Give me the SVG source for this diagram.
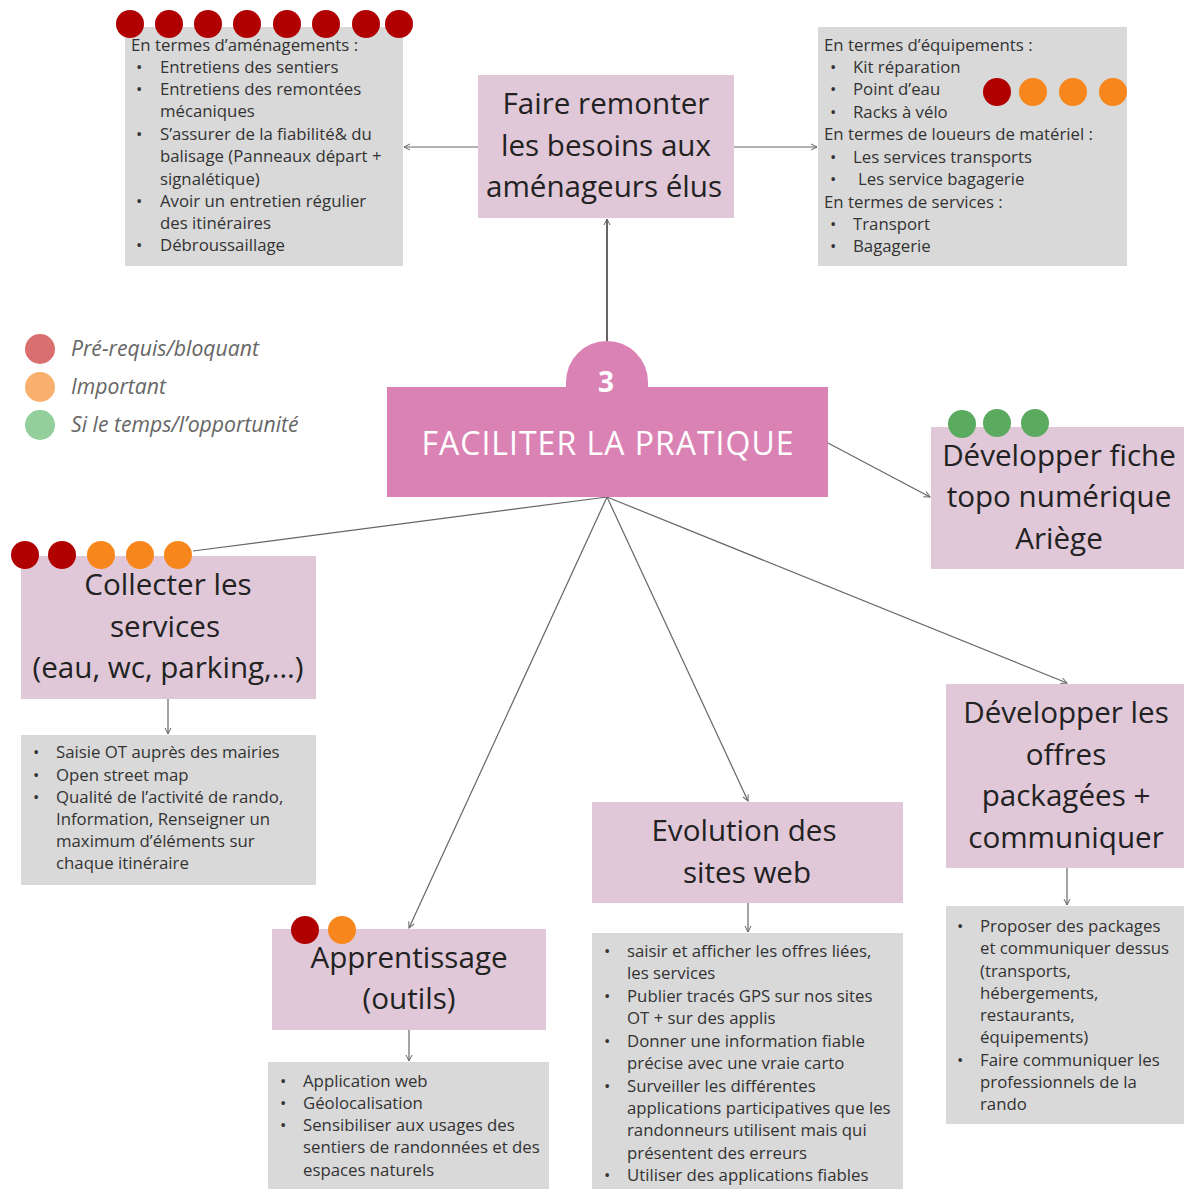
<svg xmlns="http://www.w3.org/2000/svg" width="1184" height="1189" viewBox="0 0 1184 1189">
<defs>
<marker id="ah" markerWidth="8" markerHeight="8" refX="7" refY="4" orient="auto" markerUnits="userSpaceOnUse">
<path d="M1,1 L7,4 L1,7" fill="none" stroke="#666" stroke-width="1"/>
</marker>
<style>
.gray{fill:#d9d9d9}
.pink{fill:#e0c8d8}
.t{font-family:"Open Sans","Liberation Sans",sans-serif;fill:#333}
.big{font-size:29.6px;text-anchor:middle;fill:#222}
.sm{font-size:16.8px}
.leg{font-family:"Open Sans","Liberation Sans",sans-serif;font-size:21.2px;font-style:italic;fill:#666}
.con{stroke:#666;stroke-width:1.2;fill:none}
.conb{stroke:#333;stroke-width:1.5;fill:none}
.dr{fill:#b00000}
.or{fill:#f7861c}
.gr{fill:#5aab5f}
</style>
</defs>
<rect width="1184" height="1189" fill="#ffffff"/>

<g id="connectors">
<line class="con" x1="478" y1="147" x2="404" y2="147" marker-end="url(#ah)"/>
<line class="con" x1="734" y1="147" x2="817" y2="147" marker-end="url(#ah)"/>
<line class="conb" x1="607" y1="342" x2="607" y2="219" marker-end="url(#ah)"/>
<line class="con" x1="607" y1="497" x2="193" y2="551"/>
<line class="con" x1="828" y1="443" x2="930" y2="497" marker-end="url(#ah)"/>
<line class="con" x1="607" y1="497" x2="409" y2="928" marker-end="url(#ah)"/>
<line class="con" x1="607" y1="497" x2="748" y2="801" marker-end="url(#ah)"/>
<line class="con" x1="607" y1="497" x2="1067" y2="683" marker-end="url(#ah)"/>
<line class="con" x1="168" y1="699" x2="168" y2="734" marker-end="url(#ah)"/>
<line class="con" x1="409" y1="1030" x2="409" y2="1061" marker-end="url(#ah)"/>
<line class="con" x1="748" y1="903" x2="748" y2="932" marker-end="url(#ah)"/>
<line class="con" x1="1067" y1="868" x2="1067" y2="905" marker-end="url(#ah)"/>
</g>

<g id="amenagements">
<rect class="gray" x="125" y="27" width="278" height="239"/>
<circle class="dr" cx="130" cy="24" r="14"/>
<circle class="dr" cx="169" cy="24" r="14"/>
<circle class="dr" cx="208" cy="24" r="14"/>
<circle class="dr" cx="247" cy="24" r="14"/>
<circle class="dr" cx="287" cy="24" r="14"/>
<circle class="dr" cx="326" cy="24" r="14"/>
<circle class="dr" cx="366" cy="24" r="14"/>
<circle class="dr" cx="399" cy="24" r="14"/>
<text class="t sm" x="131" y="51">En termes d’aménagements :</text>
<g class="t sm">
<text x="136" y="73">•</text><text x="160" y="73">Entretiens des sentiers</text>
<text x="136" y="95">•</text><text x="160" y="95">Entretiens des remontées</text>
<text x="160" y="117">mécaniques</text>
<text x="136" y="140">•</text><text x="160" y="140">S’assurer de la fiabilité&amp; du</text>
<text x="160" y="162">balisage (Panneaux départ +</text>
<text x="160" y="185">signalétique)</text>
<text x="136" y="207">•</text><text x="160" y="207">Avoir un entretien régulier</text>
<text x="160" y="229">des itinéraires</text>
<text x="136" y="251">•</text><text x="160" y="251">Débroussaillage</text>
</g>
</g>

<g id="faire-remonter">
<rect class="pink" x="478" y="75" width="256" height="143"/>
<text class="t big" x="606" y="114">Faire remonter</text>
<text class="t big" x="606" y="156">les besoins aux</text>
<text class="t big" x="604" y="197">aménageurs élus</text>
</g>

<g id="equipements">
<rect class="gray" x="818" y="27" width="309" height="239"/>
<g class="t sm">
<text x="824" y="51">En termes d’équipements :</text>
<text x="830" y="73">•</text><text x="853" y="73">Kit réparation</text>
<text x="830" y="95">•</text><text x="853" y="95">Point d’eau</text>
<text x="830" y="118">•</text><text x="853" y="118">Racks à vélo</text>
<text x="824" y="140">En termes de loueurs de matériel :</text>
<text x="830" y="163">•</text><text x="853" y="163">Les services transports</text>
<text x="830" y="185">•</text><text x="858" y="185">Les service bagagerie</text>
<text x="824" y="208">En termes de services :</text>
<text x="830" y="230">•</text><text x="853" y="230">Transport</text>
<text x="830" y="252">•</text><text x="853" y="252">Bagagerie</text>
</g>
<circle class="dr" cx="997" cy="92" r="14"/>
<circle class="or" cx="1033" cy="92" r="14"/>
<circle class="or" cx="1073" cy="92" r="14"/>
<circle class="or" cx="1113" cy="92" r="14"/>
</g>

<g id="legend">
<circle cx="40" cy="349" r="15" fill="#d9706f"/>
<circle cx="40" cy="387" r="15" fill="#f9b06e"/>
<circle cx="40" cy="425" r="15" fill="#93cf9b"/>
<text class="leg" x="71" y="356">Pré-requis/bloquant</text>
<text class="leg" x="71" y="394">Important</text>
<text class="leg" x="71" y="432">Si le temps/l’opportunité</text>
</g>

<g id="faciliter">
<path d="M566,387 L566,382 A41,41 0 0 1 648,382 L648,387 Z" fill="#db82b5"/>
<rect x="387" y="387" width="441" height="110" fill="#db82b5"/>
<text x="606" y="392" font-family="'Open Sans','Liberation Sans',sans-serif" font-weight="bold" font-size="28" fill="#ffffff" text-anchor="middle">3</text>
<text x="608" y="455" font-family="'Open Sans','Liberation Sans',sans-serif" font-size="32" letter-spacing="1" fill="#ffffff" text-anchor="middle">FACILITER LA PRATIQUE</text>
</g>

<g id="fiche-topo">
<rect class="pink" x="931" y="427" width="253" height="142"/>
<circle class="gr" cx="962" cy="424" r="14"/>
<circle class="gr" cx="997" cy="423" r="14"/>
<circle class="gr" cx="1035" cy="423" r="14"/>
<text class="t big" x="1059" y="466">Développer fiche</text>
<text class="t big" x="1059" y="507">topo numérique</text>
<text class="t big" x="1059" y="549">Ariège</text>
</g>

<g id="collecter">
<rect class="pink" x="21" y="556" width="295" height="143"/>
<circle class="dr" cx="25" cy="555" r="14"/>
<circle class="dr" cx="62" cy="555" r="14"/>
<circle class="or" cx="101" cy="555" r="14"/>
<circle class="or" cx="140" cy="555" r="14"/>
<circle class="or" cx="178" cy="555" r="14"/>
<text class="t big" x="168" y="595">Collecter les</text>
<text class="t big" x="165" y="637">services</text>
<text class="t big" x="168" y="678">(eau, wc, parking,…)</text>
</g>

<g id="collecter-details">
<rect class="gray" x="21" y="735" width="295" height="150"/>
<g class="t sm">
<text x="33" y="758">•</text><text x="56" y="758">Saisie OT auprès des mairies</text>
<text x="33" y="781">•</text><text x="56" y="781">Open street map</text>
<text x="33" y="803">•</text><text x="56" y="803">Qualité de l’activité de rando,</text>
<text x="56" y="825">Information, Renseigner un</text>
<text x="56" y="847">maximum d’éléments sur</text>
<text x="56" y="869">chaque itinéraire</text>
</g>
</g>

<g id="apprentissage">
<rect class="pink" x="272" y="929" width="274" height="101"/>
<circle class="dr" cx="305" cy="930" r="14"/>
<circle class="or" cx="342" cy="930" r="14"/>
<text class="t big" x="409" y="968">Apprentissage</text>
<text class="t big" x="409" y="1009">(outils)</text>
</g>

<g id="apprentissage-details">
<rect class="gray" x="268" y="1062" width="281" height="127"/>
<g class="t sm">
<text x="280" y="1087">•</text><text x="303" y="1087">Application web</text>
<text x="280" y="1109">•</text><text x="303" y="1109">Géolocalisation</text>
<text x="280" y="1131">•</text><text x="303" y="1131">Sensibiliser aux usages des</text>
<text x="303" y="1153">sentiers de randonnées et des</text>
<text x="303" y="1176">espaces naturels</text>
</g>
</g>

<g id="evolution">
<rect class="pink" x="592" y="802" width="311" height="101"/>
<text class="t big" x="744" y="841">Evolution des</text>
<text class="t big" x="747" y="883">sites web</text>
</g>

<g id="evolution-details">
<rect class="gray" x="592" y="933" width="311" height="256"/>
<g class="t sm">
<text x="604" y="957">•</text><text x="627" y="957">saisir et afficher les offres liées,</text>
<text x="627" y="979">les services</text>
<text x="604" y="1002">•</text><text x="627" y="1002">Publier tracés GPS sur nos sites</text>
<text x="627" y="1024">OT + sur des applis</text>
<text x="604" y="1047">•</text><text x="627" y="1047">Donner une information fiable</text>
<text x="627" y="1069">précise avec une vraie carto</text>
<text x="604" y="1092">•</text><text x="627" y="1092">Surveiller les différentes</text>
<text x="627" y="1114">applications participatives que les</text>
<text x="627" y="1136">randonneurs utilisent mais qui</text>
<text x="627" y="1159">présentent des erreurs</text>
<text x="604" y="1181">•</text><text x="627" y="1181">Utiliser des applications fiables</text>
</g>
</g>

<g id="offres-packagees">
<rect class="pink" x="946" y="684" width="238" height="184"/>
<text class="t big" x="1066" y="723">Développer les</text>
<text class="t big" x="1066" y="765">offres</text>
<text class="t big" x="1066" y="806">packagées +</text>
<text class="t big" x="1066" y="848">communiquer</text>
</g>

<g id="offres-details">
<rect class="gray" x="946" y="906" width="238" height="218"/>
<g class="t sm">
<text x="957" y="932">•</text><text x="980" y="932">Proposer des packages</text>
<text x="980" y="954">et communiquer dessus</text>
<text x="980" y="977">(transports,</text>
<text x="980" y="999">hébergements,</text>
<text x="980" y="1021">restaurants,</text>
<text x="980" y="1043">équipements)</text>
<text x="957" y="1066">•</text><text x="980" y="1066">Faire communiquer les</text>
<text x="980" y="1088">professionnels de la</text>
<text x="980" y="1110">rando</text>
</g>
</g>
</svg>
